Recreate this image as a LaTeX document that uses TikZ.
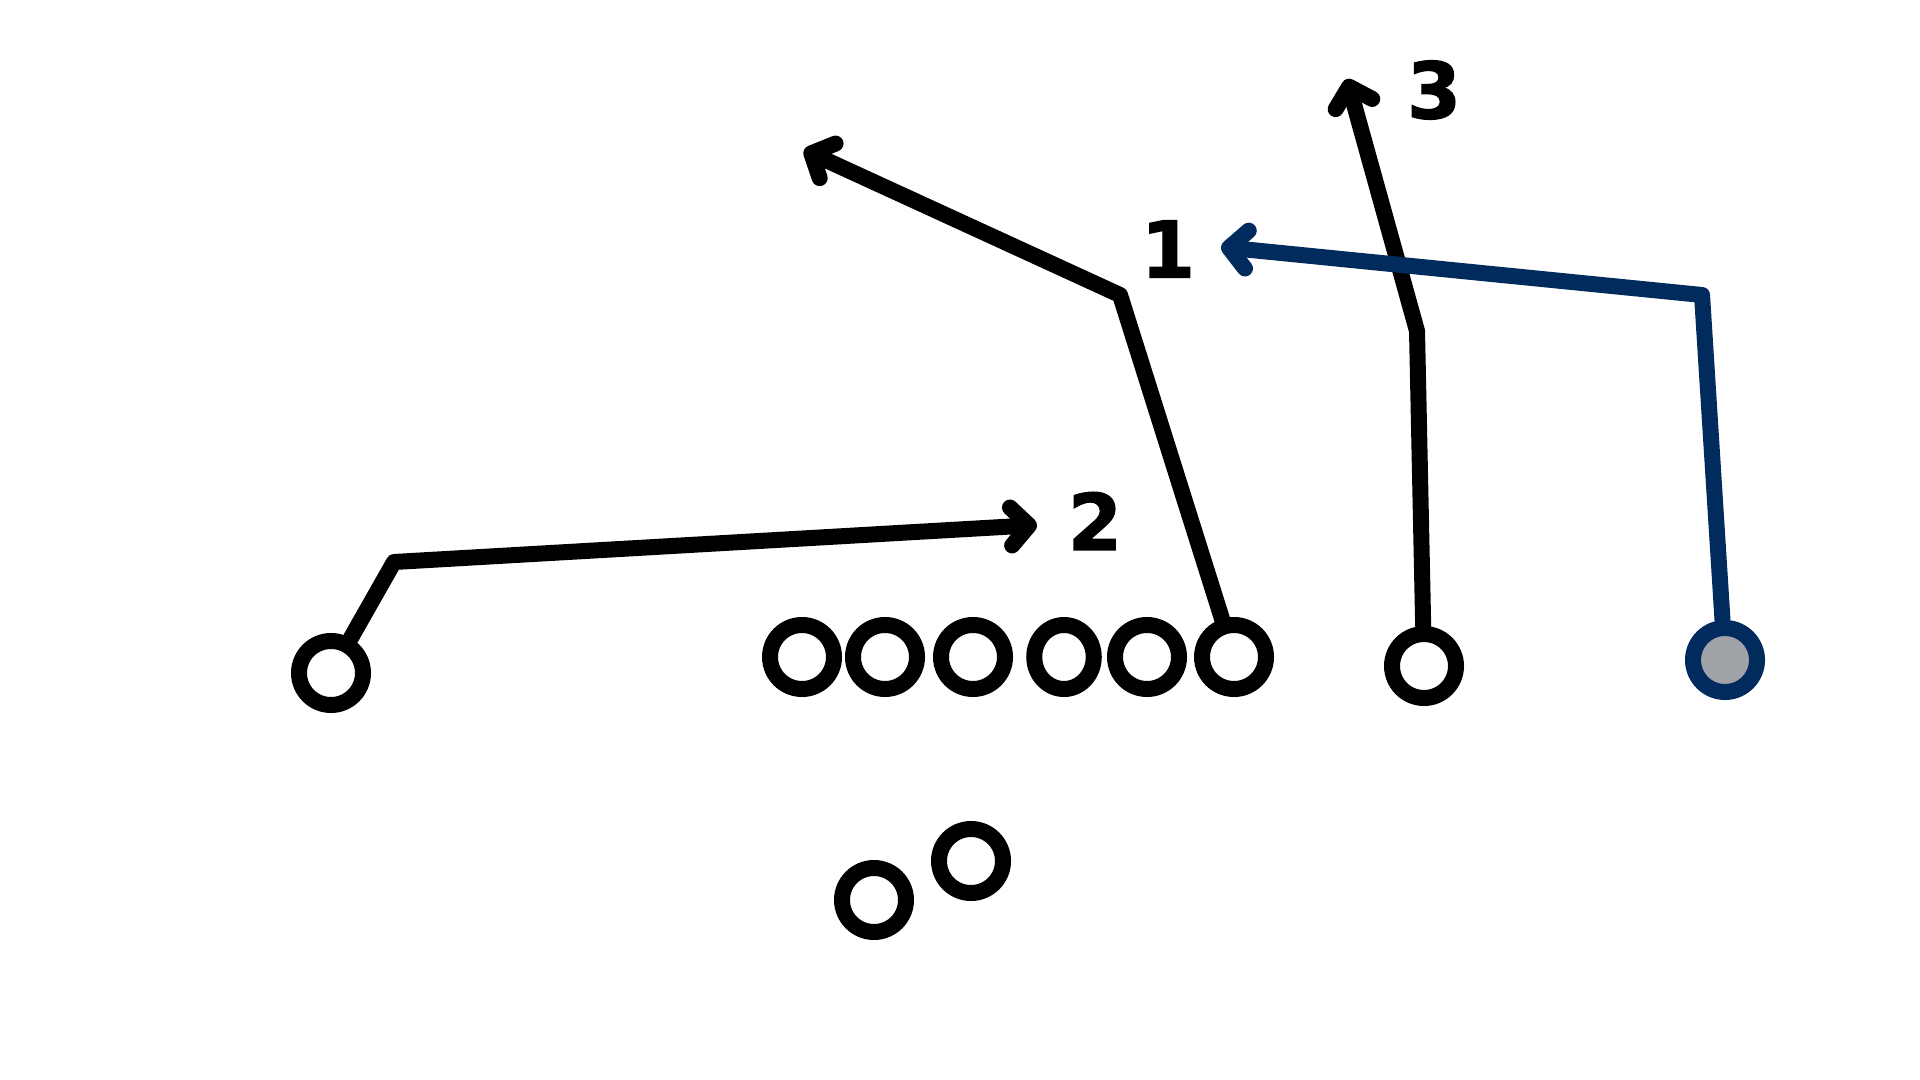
\documentclass[tikz,border=0pt]{standalone}
\usepackage{fontspec}
\setmainfont{DejaVu Sans}
\newfontfamily\numfont{DejaVu Sans}[BoldFeatures={FakeBold=1.5}]
\usetikzlibrary{arrows.meta,positioning}
\definecolor{navy}{RGB}{0,43,92}
\definecolor{ballgrey}{RGB}{160,164,168}
\tikzstyle{player} = [circle,draw=black,fill=white,line width=8pt,minimum size=32pt,inner sep=0pt]
\tikzstyle{route} = [line width=8pt,line join=round,line cap=round]
\tikzstyle{routenum} = [font=\numfont\fontsize{39}{39}\selectfont\bfseries,inner sep=0pt]
\tikzset{>={Straight Barb[length=9pt,width=19pt,line cap=round,line join=round]}}

\begin{document}
\begin{tikzpicture}[x=0.5pt,y=-0.5pt]
    \useasboundingbox (0,0) rectangle (1920,1080);

    \node [player] (wr) at (331,673) {};
    \node [player] (lt) at (802,657) {};
    \node [player] (lg) at (885,657) {};
    \node [player] (c) at (973,657) {};
    \node [player,xscale=0.93] (rg) at (1064,657) {};
    \node [player] (rt) at (1147,657) {};
    \node [player] (te) at (1234,657) {};
    \node [player] (slot) at (1424,666) {};
    \node [player,draw=navy,fill=ballgrey] (x) at (1725,660) {};
    \node [player] (qb) at (874,900) {};
    \node [player] (rb) at (971,861) {};

    \coordinate (bendB) at (394,562);
    \coordinate (tipB) at (1037,525);
    \coordinate (bendA) at (1120,295);
    \coordinate (tipA) at (804,150);
    \coordinate (bendC) at (1417,331);
    \coordinate (tipC) at (1347,79);
    \coordinate (bendX) at (1702,295);
    \coordinate (tipX) at (1221,247);

    \draw [route,->] (wr) -- (bendB) -- (tipB);
    \draw [route,->] (te) -- (bendA) -- (tipA);
    \draw [route,->] (slot) -- (bendC) -- (tipC);
    \draw [route,->,navy] (x) -- (bendX) -- (tipX);

    \node [routenum] (one) at (1168,249) {1};
    \node [routenum] (two) at (1095,521) {2};
    \node [routenum] (three) at (1434,90) {3};
\end{tikzpicture}
\end{document}
